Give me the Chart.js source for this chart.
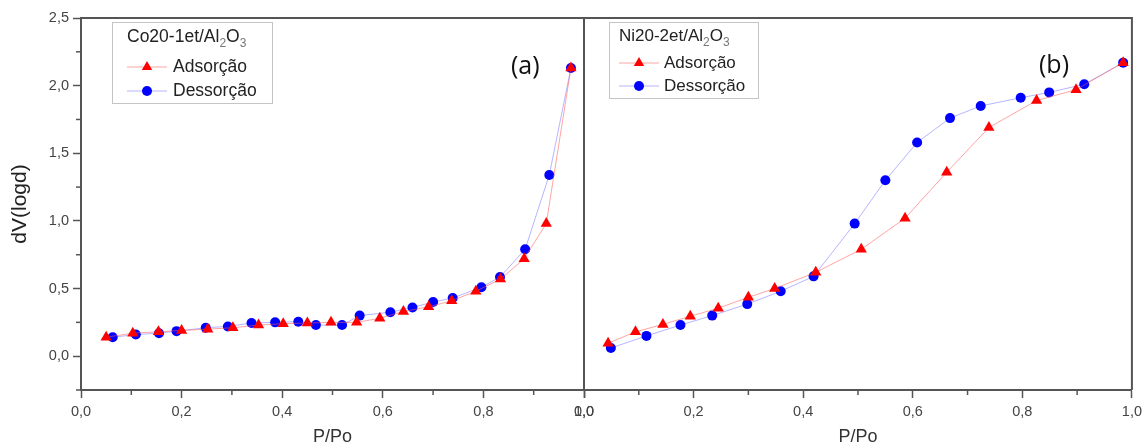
<!DOCTYPE html>
<html>
<head>
<meta charset="utf-8">
<script src="https://cdn.jsdelivr.net/npm/chart.js@4.4.1/dist/chart.umd.min.js"></script>
<style>
  html, body { margin: 0; padding: 0; background: #fff; }
  #wrap { position: relative; width: 1147px; height: 445px; overflow: hidden; }
  .panel { position: absolute; top: 0; height: 445px; }
  #panelA { left: 0; width: 600px; }
  #panelB { left: 560px; width: 587px; }
</style>
</head>
<body>
<div id="wrap">
  <div class="panel" id="panelA"><canvas id="chartA"></canvas></div>
  <div class="panel" id="panelB"><canvas id="chartB"></canvas></div>
</div>
<script>
// ---------- data ----------
const seriesNames = ['Adsorção', 'Dessorção'];
const legendTitles = ['Co20-1et/Al_2O_3', 'Ni20-2et/Al_2O_3'];
const panelTags = ['(a)', '(b)'];
const xTitle = 'P/Po';
const yTitle = 'dV(logd)';

// (a) Co20-1et/Al2O3
const coAdsX = [0.05, 0.103, 0.154, 0.20, 0.252, 0.302, 0.353, 0.402, 0.45, 0.497, 0.548, 0.594, 0.641, 0.691, 0.737, 0.785, 0.834, 0.881, 0.925, 0.974];
const coAdsY = [0.14, 0.17, 0.18, 0.19, 0.20, 0.21, 0.23, 0.24, 0.245, 0.25, 0.25, 0.28, 0.33, 0.365, 0.41, 0.48, 0.57, 0.72, 0.98, 2.13];
const coDesX = [0.063, 0.109, 0.155, 0.19, 0.248, 0.292, 0.339, 0.386, 0.432, 0.467, 0.519, 0.554, 0.615, 0.659, 0.70, 0.739, 0.796, 0.833, 0.883, 0.931, 0.974];
const coDesY = [0.14, 0.16, 0.17, 0.185, 0.21, 0.22, 0.245, 0.25, 0.255, 0.23, 0.23, 0.30, 0.325, 0.36, 0.40, 0.43, 0.51, 0.585, 0.79, 1.34, 2.13];

// (b) Ni20-2et/Al2O3
const niAdsX = [0.044, 0.094, 0.144, 0.194, 0.245, 0.30, 0.348, 0.423, 0.506, 0.586, 0.662, 0.739, 0.826, 0.898, 0.984];
const niAdsY = [0.096, 0.18, 0.235, 0.295, 0.355, 0.435, 0.50, 0.62, 0.79, 1.02, 1.36, 1.69, 1.89, 1.97, 2.17];
const niDesX = [0.049, 0.114, 0.176, 0.234, 0.298, 0.359, 0.419, 0.494, 0.55, 0.608, 0.668, 0.724, 0.797, 0.849, 0.913, 0.984];
const niDesY = [0.06, 0.15, 0.23, 0.30, 0.385, 0.48, 0.59, 0.98, 1.30, 1.58, 1.76, 1.85, 1.91, 1.95, 2.01, 2.17];

const AXIS = '#555';
const TXT = '#444';
const FONT = "'Liberation Sans', Arial, sans-serif";

const pts = (xs, ys) => xs.map((x, i) => ({ x, y: ys[i] }));
const fmt = v => v.toFixed(1).replace('.', ',');
const isMajorX = v => Math.round(v * 10) % 2 === 0;
const isMajorY = v => Math.round(v * 4) % 2 === 0;

function makeDatasets(adsX, adsY, desX, desY) {
  return [
    {
      label: seriesNames[0],
      data: pts(adsX, adsY),
      borderColor: 'rgba(255, 90, 90, 0.55)',
      borderWidth: 1,
      pointStyle: 'triangle',
      pointRadius: 6.5,
      pointBorderWidth: 0,
      pointBackgroundColor: '#ff0000',
      showLine: true
    },
    {
      label: seriesNames[1],
      data: pts(desX, desY),
      borderColor: 'rgba(110, 110, 255, 0.5)',
      borderWidth: 1,
      pointStyle: 'circle',
      pointRadius: 5,
      pointBorderWidth: 0,
      pointBackgroundColor: '#0000ff',
      showLine: true
    }
  ];
}

// draws frame, minor ticks, legend box with subscripts and panel tag
const panelDecor = {
  id: 'panelDecor',
  afterDraw(chart, args, opts) {
    const ctx = chart.ctx;
    const ca = chart.chartArea;
    ctx.save();

    // frame
    ctx.strokeStyle = AXIS;
    ctx.lineWidth = 2;
    ctx.beginPath();
    ctx.moveTo(ca.left, ca.top);
    ctx.lineTo(ca.right, ca.top);
    if (opts.frameRight) ctx.lineTo(ca.right, ca.bottom);
    ctx.stroke();

    // minor ticks
    ctx.lineWidth = 1.5;
    const xs = chart.scales.x;
    xs.ticks.forEach(t => {
      if (isMajorX(t.value)) return;
      const px = xs.getPixelForValue(t.value);
      ctx.beginPath();
      ctx.moveTo(px, ca.bottom);
      ctx.lineTo(px, ca.bottom + 5);
      ctx.stroke();
    });
    if (opts.yMinor) {
      const ys = chart.scales.y;
      ys.ticks.forEach(t => {
        if (isMajorY(t.value)) return;
        const py = ys.getPixelForValue(t.value);
        ctx.beginPath();
        ctx.moveTo(ca.left, py);
        ctx.lineTo(ca.left - 5, py);
        ctx.stroke();
      });
    }

    // legend
    const lg = opts.legend;
    const bx = ca.left + lg.dx, by = ca.top + lg.dy;
    ctx.strokeStyle = '#c4c4c4';
    ctx.lineWidth = 1;
    ctx.strokeRect(bx + 0.5, by + 0.5, lg.w, lg.h);

    ctx.textBaseline = 'middle';
    ctx.textAlign = 'left';
    let tx = bx + lg.pad;
    const ty = by + lg.titleY;
    lg.title.split(/(_\d)/).filter(s => s).forEach(part => {
      if (part[0] === '_') {
        ctx.font = `12px ${FONT}`;
        ctx.fillStyle = '#777';
        ctx.fillText(part.slice(1), tx, ty + 7);
        tx += ctx.measureText(part.slice(1)).width;
      } else {
        ctx.font = `${lg.font}px ${FONT}`;
        ctx.fillStyle = '#222';
        ctx.fillText(part, tx, ty);
        tx += ctx.measureText(part).width;
      }
    });

    chart.data.datasets.forEach((ds, i) => {
      const ry = by + lg.rowY + i * lg.rowGap;
      const lx = bx + lg.pad;
      ctx.strokeStyle = ds.borderColor;
      ctx.lineWidth = 1;
      ctx.beginPath();
      ctx.moveTo(lx, ry);
      ctx.lineTo(lx + 40, ry);
      ctx.stroke();
      ctx.fillStyle = ds.pointBackgroundColor;
      Chart.helpers.drawPoint(ctx, {
        pointStyle: ds.pointStyle,
        radius: ds.pointStyle === 'triangle' ? 6 : 5,
        rotation: 0,
        borderWidth: 0
      }, lx + 20, ry);
      ctx.fillStyle = '#222';
      ctx.font = `${lg.font}px ${FONT}`;
      ctx.fillText(ds.label, lx + lg.textX, ry);
    });

    // panel tag
    ctx.font = "25px 'Open Sans', sans-serif";
    ctx.fillStyle = '#111';
    ctx.textAlign = 'left';
    ctx.fillText(opts.tag, opts.tagX, opts.tagY);
    ctx.restore();
  }
};

function makeOptions(cfg) {
  return {
    responsive: true,
    maintainAspectRatio: false,
    animation: false,
    layout: { padding: { top: 18, right: cfg.padRight, bottom: 0, left: 0 } },
    plugins: {
      legend: { display: false },
      tooltip: { enabled: false },
      panelDecor: cfg.decor
    },
    scales: {
      x: {
        type: 'linear',
        min: 0,
        max: 1,
        afterFit: s => { s.height = 55; },
        border: { color: AXIS, width: 2 },
        grid: {
          drawOnChartArea: false,
          tickLength: 8,
          tickWidth: 1.5,
          tickColor: c => (c.tick && isMajorX(c.tick.value) ? AXIS : 'rgba(0,0,0,0)')
        },
        ticks: {
          stepSize: 0.1,
          autoSkip: false,
          maxRotation: 0,
          padding: 5,
          color: TXT,
          font: { family: FONT, size: 14.5 },
          callback: v => (isMajorX(v) ? fmt(v) : '')
        },
        title: {
          display: true,
          text: xTitle,
          color: '#333',
          font: { family: FONT, size: 18, lineHeight: 1 },
          padding: { top: 0, bottom: -1 }
        }
      },
      y: {
        type: 'linear',
        min: -0.25,
        max: 2.5,
        afterFit: s => { s.width = cfg.yWidth; },
        border: { color: AXIS, width: 2 },
        grid: {
          drawOnChartArea: false,
          drawTicks: cfg.yLabels,
          tickLength: 8,
          tickWidth: 1.5,
          tickColor: c => (c.tick && isMajorY(c.tick.value) ? AXIS : 'rgba(0,0,0,0)')
        },
        ticks: {
          display: cfg.yLabels,
          stepSize: 0.25,
          autoSkip: false,
          padding: 4,
          color: TXT,
          font: { family: FONT, size: 14.5 },
          callback: v => (isMajorY(v) && v >= 0 ? fmt(v) : '')
        },
        title: {
          display: cfg.yLabels,
          text: yTitle,
          color: '#222',
          font: { family: FONT, size: 21, lineHeight: 1 },
          padding: { top: 10, bottom: 0 }
        }
      }
    }
  };
}

new Chart(document.getElementById('chartA'), {
  type: 'line',
  data: { datasets: makeDatasets(coAdsX, coAdsY, coDesX, coDesY) },
  options: makeOptions({
    padRight: 16,
    yWidth: 81,
    yLabels: true,
    decor: {
      frameRight: false,
      yMinor: true,
      tag: panelTags[0],
      tagX: 511,
      tagY: 67,
      legend: { dx: 31, dy: 4, w: 160, h: 81, pad: 15, titleY: 15, rowY: 45, rowGap: 24, textX: 46, font: 17.5, title: legendTitles[0] }
    }
  }),
  plugins: [panelDecor]
});

new Chart(document.getElementById('chartB'), {
  type: 'line',
  data: { datasets: makeDatasets(niAdsX, niAdsY, niDesX, niDesY) },
  options: makeOptions({
    padRight: 12,
    yWidth: 24,
    yLabels: false,
    decor: {
      frameRight: true,
      yMinor: false,
      tag: panelTags[1],
      tagX: 1039 - 560,
      tagY: 66,
      legend: { dx: 25, dy: 4, w: 149, h: 76, pad: 10, titleY: 14, rowY: 41, rowGap: 23, textX: 45, font: 17, title: legendTitles[1] }
    }
  }),
  plugins: [panelDecor]
});
</script>
</body>
</html>
